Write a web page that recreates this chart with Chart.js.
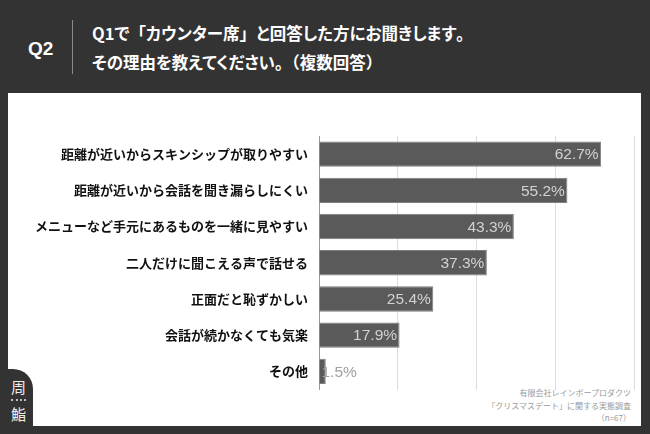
<!DOCTYPE html>
<html><head><meta charset="utf-8">
<script src="https://cdn.jsdelivr.net/npm/chart.js@4"></script>
<style>
html,body{margin:0;padding:0;}
body{width:650px;height:434px;background:#333333;position:relative;overflow:hidden;font-family:"Noto Sans CJK JP";}
#q{position:absolute;left:28px;top:38px;color:#fff;font:bold 19px "Liberation Sans";}
#sep{position:absolute;left:72px;top:20px;width:1px;height:54px;background:#8a8a8a;}
#title{position:absolute;left:92px;top:19px;color:#fff;font-weight:bold;font-size:16.5px;line-height:29px;font-feature-settings:"palt";white-space:nowrap;}
#title .p{font-feature-settings:normal;}
#panel{position:absolute;left:8px;top:93px;width:633px;height:333px;background:#fff;}
#logo{position:absolute;left:0;top:369px;width:33px;height:65px;background:#333333;border-top-right-radius:20px;color:#eee;}
#logo .a{position:absolute;left:11px;top:10px;font-size:15px;line-height:15px;}
#logo .b{position:absolute;left:11px;top:37px;font-size:15px;line-height:15px;}
#logo .d{position:absolute;left:11px;top:30px;width:15px;border-top:2px dotted #bbb;}
#foot{position:absolute;right:19px;top:387px;text-align:right;color:#999;font-size:8px;line-height:12.5px;white-space:nowrap;}
#wrap{position:absolute;left:0;top:0;width:650px;height:434px;}
</style></head>
<body>
<div id="panel"></div>
<div id="q">Q2</div>
<div id="sep"></div>
<div id="title">Q1で<span class="p">「</span>カウンター席<span class="p">」</span>と回答した方にお聞きします<span class="p">。</span><br>その理由を教えてください<span class="p">。（</span>複数回答<span class="p">）</span></div>
<div id="logo"><span class="a">周</span><div class="d"></div><span class="b">鮨</span></div>
<div id="foot">有限会社レインボープロダクツ<br>「クリスマスデート」に関する実態調査<br>（n=67）</div>
<div id="wrap"><canvas id="c" width="650" height="434"></canvas></div>
<script>
const categories = [
  '距離が近いからスキンシップが取りやすい',
  '距離が近いから会話を聞き漏らしにくい',
  'メニューなど手元にあるものを一緒に見やすい',
  '二人だけに聞こえる声で話せる',
  '正面だと恥ずかしい',
  '会話が続かなくても気楽',
  'その他'
];
const values = [62.7, 55.2, 43.3, 37.3, 25.4, 17.9, 1.5];
const axisMax = 70;
const axisStep = 17.5;

const labelPlugin = {
  id: 'vals',
  afterDatasetsDraw(chart) {
    const ctx = chart.ctx;
    const meta = chart.getDatasetMeta(0);
    ctx.save();
    ctx.font = '15.5px "Liberation Sans"';
    ctx.textBaseline = 'middle';
    meta.data.forEach((bar, i) => {
      const v = values[i];
      const t = v.toFixed(1) + '%';
      if (v < 5) {
        ctx.fillStyle = '#a0a0a0';
        ctx.textAlign = 'left';
        ctx.fillText(t, bar.base + 2, bar.y + 1);
      } else {
        ctx.fillStyle = '#d2d2d2';
        ctx.textAlign = 'right';
        ctx.fillText(t, bar.x - 2.5, bar.y + 1);
      }
    });
    ctx.restore();
  }
};

new Chart(document.getElementById('c'), {
  type: 'bar',
  data: {
    labels: categories,
    datasets: [{
      data: values,
      backgroundColor: '#5a5a5a',
      borderColor: '#7e7e7e',
      borderWidth: 1,
      borderSkipped: 'start',
      categoryPercentage: 1,
      barPercentage: 0.7
    }]
  },
  options: {
    indexAxis: 'y',
    responsive: false,
    animation: false,
    events: [],
    layout: { padding: { left: 0, right: 16, top: 136, bottom: 44.5 } },
    plugins: { legend: { display: false }, tooltip: { enabled: false } },
    scales: {
      x: {
        min: 0, max: axisMax,
        ticks: { display: false, stepSize: axisStep },
        grid: { color: '#dddddd', drawTicks: false },
        border: { display: false },
        afterFit: s => { s.height = 0; }
      },
      y: {
        ticks: {
          color: '#111',
          padding: 11,
          font: { family: '"Noto Sans CJK JP"', size: 13, weight: 'bold' }
        },
        grid: { display: false, drawTicks: false },
        border: { display: true, color: '#999999', width: 1 },
        afterFit: s => { s.width = 319; }
      }
    }
  },
  plugins: [labelPlugin]
});
</script>
</body></html>
